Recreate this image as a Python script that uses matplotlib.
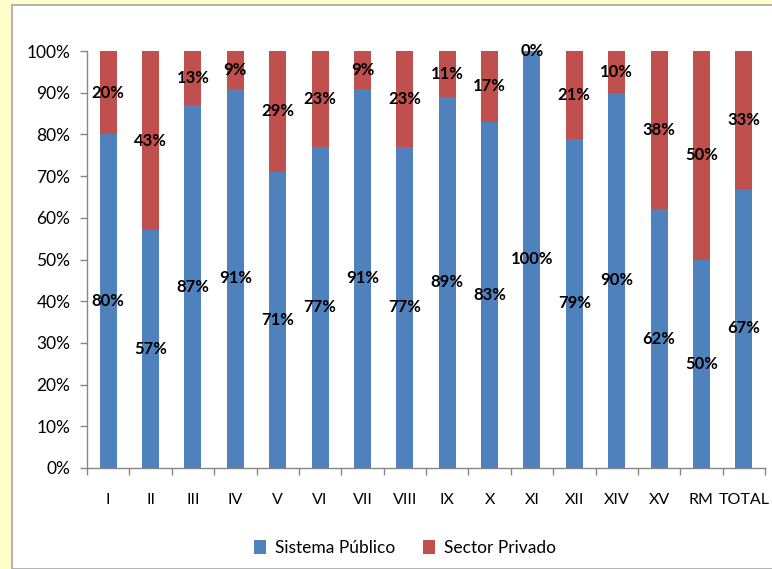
import matplotlib
matplotlib.use("Agg")
import matplotlib.pyplot as plt
from matplotlib.patches import Rectangle
import numpy as np

categories = ["I", "II", "III", "IV", "V", "VI", "VII", "VIII", "IX", "X",
              "XI", "XII", "XIV", "XV", "RM", "TOTAL"]
publico = [80, 57, 87, 91, 71, 77, 91, 77, 89, 83, 100, 79, 90, 62, 50, 67]
privado = [20, 43, 13, 9, 29, 23, 9, 23, 11, 17, 0, 21, 10, 38, 50, 33]
pub_labels = ["80%", "57%", "87%", "91%", "71%", "77%", "91%", "77%", "89%", "83%",
              "100%", "79%", "90%", "62%", "50%", "67%"]
priv_labels = ["20%", "43%", "13%", "9%", "29%", "23%", "9%", "23%", "11%", "17%",
               "0%", "21%", "10%", "38%", "50%", "33%"]

plt.rcParams['font.family'] = ['Lato', 'DejaVu Sans']

W, H = 772, 569
fig = plt.figure(figsize=(W / 100, H / 100), dpi=100)
fig.patch.set_facecolor("#FFFFCC")
# white panel
fig.add_artist(Rectangle((12 / W, 0), 1, 1 - 5 / H, transform=fig.transFigure,
                         facecolor="white", edgecolor="#A6A6A6", linewidth=1.2, zorder=0))

ax = fig.add_axes([87 / W, 1 - 468 / H, (765 - 87) / W, (468 - 51) / H])
ax.set_facecolor("none")

blue = "#4F81BD"
red = "#C0504D"
x = np.arange(len(categories))
tot = np.array(publico, float) + np.array(privado, float)
pub_frac = np.array(publico) / tot
priv_frac = np.array(privado) / tot
ax.bar(x, pub_frac, width=0.4, color=blue, label="Sistema Público", zorder=2)
ax.bar(x, priv_frac, width=0.4, bottom=pub_frac, color=red, label="Sector Privado", zorder=2)

for i in range(len(x)):
    ax.text(x[i], pub_frac[i] / 2, pub_labels[i], ha="center", va="center",
            fontsize=12, fontweight="bold", color="black", zorder=3)
    ax.text(x[i], pub_frac[i] + priv_frac[i] / 2, priv_labels[i], ha="center",
            va="center", fontsize=12, fontweight="bold", color="black", zorder=3)

ax.set_xlim(-0.5, len(x) - 0.5)
ax.set_ylim(0, 1)
ax.set_yticks(np.arange(0, 1.01, 0.1))
ax.set_yticklabels([f"{int(v)}%" for v in np.arange(0, 101, 10)], fontsize=12.5)
ax.set_xticks(x)
ax.set_xticklabels(categories, fontsize=11.5)
ax.set_xticks(np.arange(-0.5, len(x), 1), minor=True)
ax.tick_params(axis="x", which="major", length=0, pad=18)
ax.tick_params(axis="x", which="minor", length=5, color="#868686", width=1)
ax.tick_params(axis="y", length=5, color="#868686", width=1, pad=7)
for s in ["top", "right"]:
    ax.spines[s].set_visible(False)
for s in ["left", "bottom"]:
    ax.spines[s].set_color("#868686")
    ax.spines[s].set_linewidth(1)

leg = fig.legend(loc="center", bbox_to_anchor=(405 / W, 1 - 548 / H), ncol=2,
                 frameon=False, fontsize=12.5, handlelength=0.7, handleheight=0.85,
                 columnspacing=1.6, handletextpad=0.5)

fig.savefig("out.png", dpi=100)
